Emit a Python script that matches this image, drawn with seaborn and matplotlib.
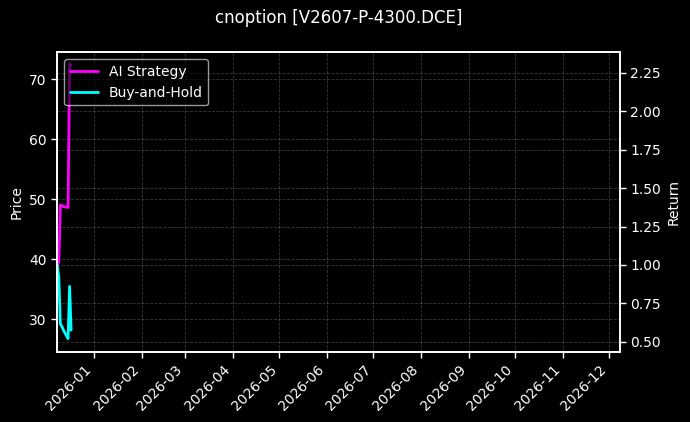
import matplotlib
matplotlib.use("Agg")
import matplotlib.pyplot as plt
import matplotlib.dates as mdates
import seaborn as sns
import pandas as pd

# ---- data ----
dates = ["2025-12-08", "2025-12-09", "2025-12-10", "2025-12-11",
         "2025-12-12", "2025-12-15", "2025-12-16", "2025-12-17"]
ai_strategy = [1.00, 1.02, 1.39, 1.385, 1.38, 1.374, 2.31, 2.30]
buy_and_hold = [1.00, 0.92, 0.615, 0.60, 0.575, 0.52, 0.86, 0.575]
title = "cnoption [V2607-P-4300.DCE]"

df = pd.DataFrame({
    "date": pd.to_datetime(dates),
    "AI Strategy": ai_strategy,
    "Buy-and-Hold": buy_and_hold,
})

plt.style.use("dark_background")
sns.set_style("dark", {"axes.facecolor": "black", "figure.facecolor": "black"})
plt.rcParams["font.family"] = ["DejaVu Sans"]
plt.rcParams.update({
    "text.color": "white", "axes.labelcolor": "white",
    "xtick.color": "white", "ytick.color": "white",
    "axes.edgecolor": "white",
})

fig, ax1 = plt.subplots(figsize=(6.9, 4.22), dpi=100)
fig.patch.set_facecolor("black")
ax1.set_facecolor("black")
ax2 = ax1.twinx()

sns.lineplot(data=df, x="date", y="AI Strategy", ax=ax2, color="#ff00ff",
             linewidth=2, label="AI Strategy", legend=False)
sns.lineplot(data=df, x="date", y="Buy-and-Hold", ax=ax2, color="#00ffff",
             linewidth=2, label="Buy-and-Hold", legend=False)

ax1.set_xlim(pd.Timestamp("2025-12-08"), pd.Timestamp("2026-12-08"))
ax1.set_ylim(24.6, 74.45)
ax2.set_ylim(0.435, 2.384)

ax1.set_ylabel("Price", color="white")
ax2.set_ylabel("Return", color="white")
ax1.set_xlabel("")
ax2.set_xlabel("")

ax1.xaxis.set_major_locator(mdates.MonthLocator())
ax1.xaxis.set_major_formatter(mdates.DateFormatter("%Y-%m"))
plt.setp(ax1.get_xticklabels(), rotation=45, ha="right")

for a in (ax1, ax2):
    a.grid(True, linestyle="--", linewidth=0.6, color="white", alpha=0.22)
    a.tick_params(colors="white", length=4, width=1, left=(a is ax1), right=(a is ax2), bottom=True)
    for s in a.spines.values():
        s.set_color("white")
        s.set_linewidth(1.2)

h, l = ax2.get_legend_handles_labels()
leg = ax2.legend(h, l, loc="upper left", facecolor="black", edgecolor="white",
                 framealpha=0.6, fontsize=10)
for t in leg.get_texts():
    t.set_color("white")

fig.subplots_adjust(left=0.083, right=0.8986, top=0.876, bottom=0.1666)
fig.text(338.3 / 690, 1 - 18 / 422, title, ha="center", va="center",
         fontsize=12, color="white")

fig.savefig("out.png", dpi=100, facecolor="black")
